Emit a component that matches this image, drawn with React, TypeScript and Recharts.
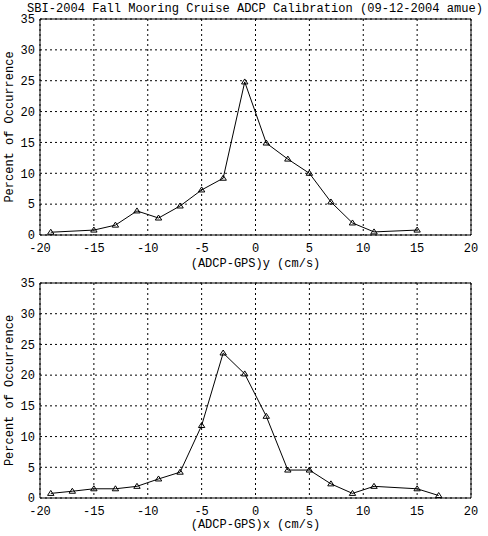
import React from 'react';
import { LineChart, Line, XAxis, YAxis, CartesianGrid, ReferenceArea } from 'recharts';

// (ADCP-GPS)y histogram
const velocityY = [-19, -15, -13, -11, -9, -7, -5, -3, -1, 1, 3, 5, 7, 9, 11, 15];
const percentY = [0.45, 0.8, 1.6, 3.9, 2.75, 4.7, 7.3, 9.2, 24.8, 14.9, 12.3, 10.0, 5.35, 1.95, 0.5, 0.8];

// (ADCP-GPS)x histogram
const velocityX = [-19, -17, -15, -13, -11, -9, -7, -5, -3, -1, 1, 3, 5, 7, 9, 11, 15, 17];
const percentX = [0.75, 1.1, 1.5, 1.5, 1.9, 3.1, 4.2, 11.8, 23.6, 20.2, 13.3, 4.55, 4.55, 2.3, 0.75, 1.9, 1.5, 0.4];

const xTicks = [-20, -15, -10, -5, 0, 5, 10, 15, 20];
const yTicks = [0, 5, 10, 15, 20, 25, 30, 35];

const title = 'SBI-2004 Fall Mooring Cruise ADCP Calibration (09-12-2004 amue)';
const yLabel = 'Percent of Occurrence';

const FONT = '"Liberation Mono", "DejaVu Sans Mono", monospace';
const tickStyle = { fontSize: 12, fontFamily: FONT, fill: '#000' };

const Triangle = (props: any) => {
  const { cx, cy } = props;
  if (cx == null || cy == null) return null;
  return (
    <path
      d={`M${cx},${cy - 3} L${cx + 3.2},${cy + 2} L${cx - 3.2},${cy + 2} Z`}
      fill="none"
      stroke="#000"
      strokeWidth={1}
    />
  );
};

interface PanelProps {
  xs: number[];
  ys: number[];
  xLabel: string;
  height: number;
  top: number;
  bottom: number;
  labelOffset: number;
}

const Panel: React.FC<PanelProps> = ({ xs, ys, xLabel, height, top, bottom, labelOffset }) => {
  const data = xs.map((x, i) => ({ x, y: ys[i] }));
  return (
    <LineChart width={488} height={height} data={data} margin={{ top, right: 17, left: 0, bottom: 0 }}>
      <CartesianGrid stroke="#000" strokeDasharray="2 3" strokeWidth={1} />
      <XAxis
        dataKey="x"
        type="number"
        domain={[-20, 20]}
        ticks={xTicks}
        interval={0}
        height={bottom}
        axisLine={false}
        tickLine={false}
        tickSize={0}
        tickMargin={8}
        tick={tickStyle}
        label={{ value: xLabel, position: 'insideBottom', offset: labelOffset, style: tickStyle }}
      />
      <YAxis
        type="number"
        domain={[0, 35]}
        ticks={yTicks}
        interval={0}
        width={40}
        axisLine={false}
        tickLine={false}
        tickSize={0}
        tickMargin={5}
        tick={tickStyle}
        label={{
          value: yLabel,
          angle: -90,
          position: 'insideLeft',
          offset: 8.5,
          style: { ...tickStyle, textAnchor: 'middle' },
        }}
      />
      <ReferenceArea x1={-20} x2={20} y1={0} y2={35} fill="none" stroke="#000" strokeWidth={1} ifOverflow="visible" />
      <Line
        dataKey="y"
        type="linear"
        stroke="#000"
        strokeWidth={1}
        dot={<Triangle />}
        activeDot={false}
        isAnimationActive={false}
      />
    </LineChart>
  );
};

export default function App() {
  return (
    <div style={{ position: 'absolute', left: 0, top: 0, width: 488, height: 536, background: '#fff' }}>
      <svg width={488} height={18} style={{ position: 'absolute', left: 0, top: 0 }}>
        <text
          x={27}
          y={11.5}
          textLength={456}
          lengthAdjust="spacingAndGlyphs"
          fontFamily={FONT}
          fontSize={12}
          fill="#000"
        >
          {title}
        </text>
      </svg>
      <div style={{ position: 'absolute', left: 0, top: 0 }}>
        <Panel xs={velocityY} ys={percentY} xLabel="(ADCP-GPS)y (cm/s)" height={274} top={19} bottom={39} labelOffset={7} />
      </div>
      <div style={{ position: 'absolute', left: 0, top: 268 }}>
        <Panel xs={velocityX} ys={percentX} xLabel="(ADCP-GPS)x (cm/s)" height={268} top={15} bottom={38} labelOffset={8.5} />
      </div>
    </div>
  );
}
